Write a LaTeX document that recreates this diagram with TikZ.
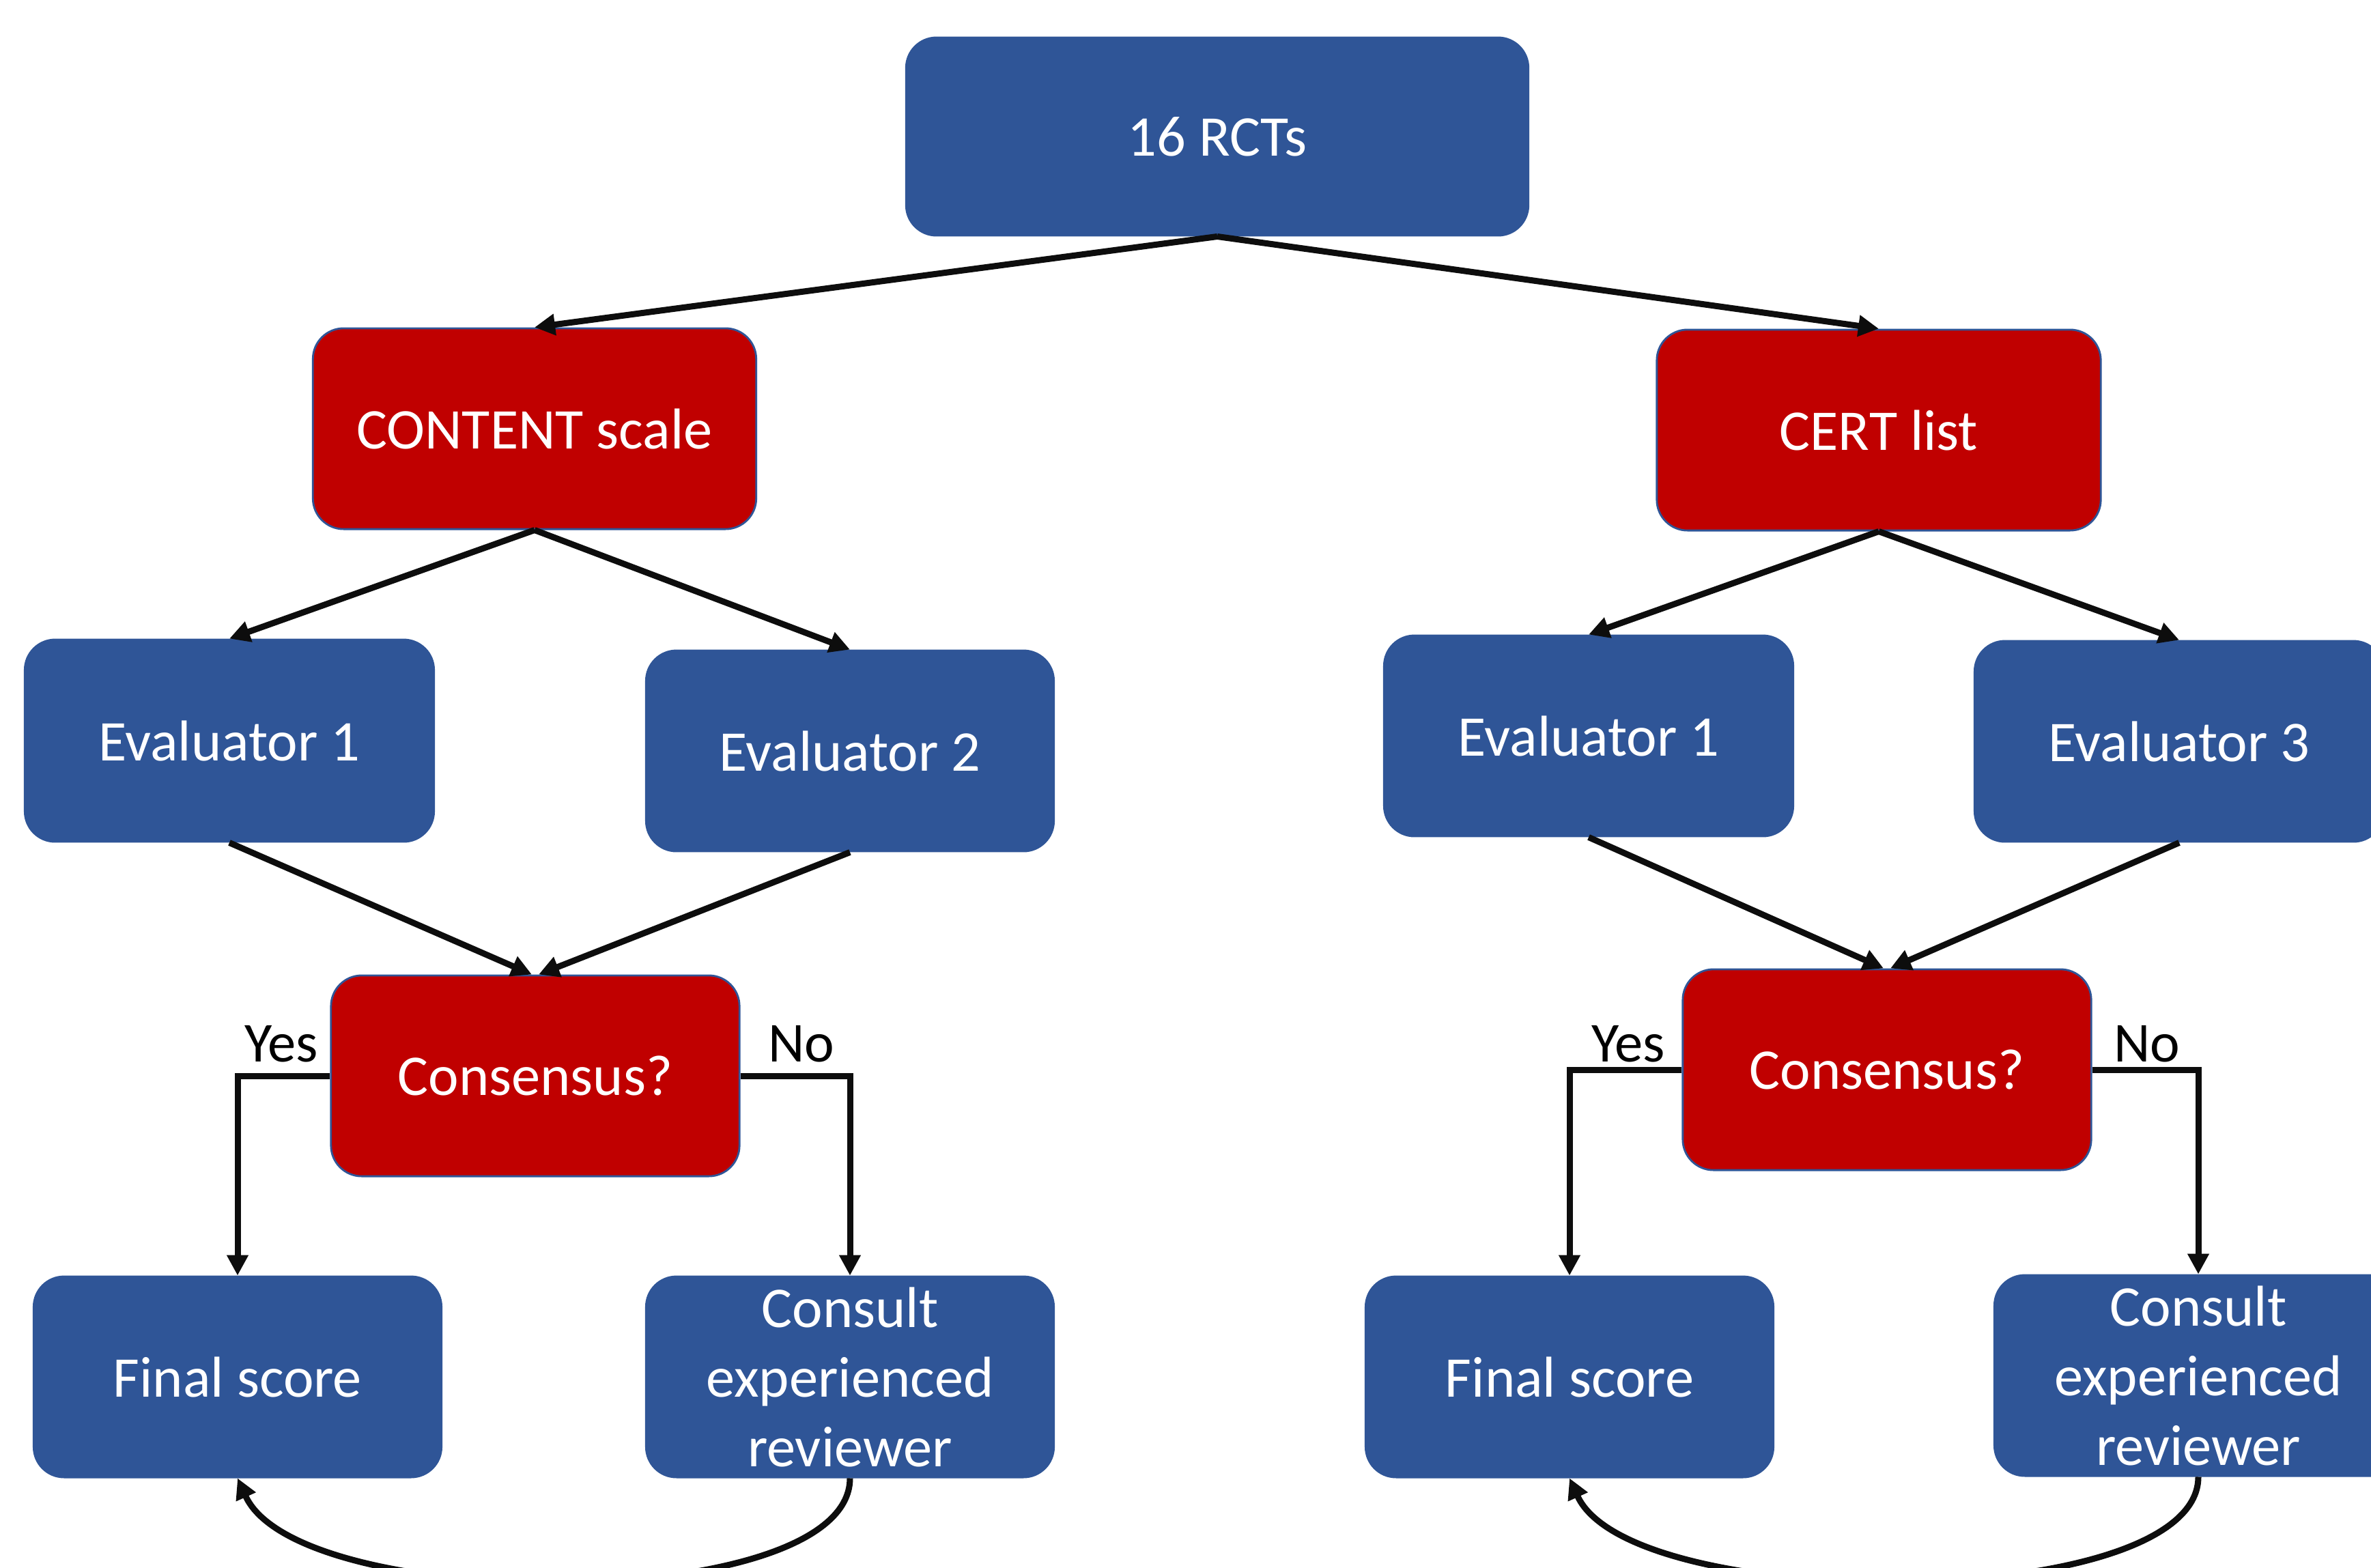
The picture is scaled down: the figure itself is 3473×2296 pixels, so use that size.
\documentclass[tikz,border=0pt]{standalone}
\usepackage{fontspec}
\setmainfont{Carlito}
\usetikzlibrary{arrows.meta}
\definecolor{boxblue}{HTML}{2F5597}
\definecolor{boxred}{HTML}{C00000}
\begin{document}
\begin{tikzpicture}[x=0.01cm,y=-0.01cm,
  base/.style={rectangle, rounded corners=0.45cm, text=white, inner sep=0pt,
    align=center, font=\fontsize{24}{29}\selectfont},
  bluebox/.style={base, fill=boxblue, draw=boxblue, line width=0.5pt},
  redbox/.style={base, fill=boxred, draw=boxblue, line width=0.8pt},
  lab/.style={text=black, inner sep=0pt, font=\fontsize{23.5}{28}\selectfont},
  arr/.style={line width=0.09cm, draw={black!95}, -{Triangle[length=0.3cm,width=0.3cm]}},
  ln/.style={line width=0.09cm, draw={black!95}}]
\clip (0,0) rectangle (3473,2296);
\fill[white] (0,0) rectangle (3473,2296);

\node[bluebox, minimum width=9.12cm, minimum height=2.91cm] (top) at (1783,200) {16 RCTs};
\node[redbox, minimum width=6.49cm, minimum height=2.94cm] (content) at (783,628) {CONTENT scale};
\node[redbox, minimum width=6.5cm, minimum height=2.94cm] (cert) at (2752,630) {CERT list};

\node[bluebox, minimum width=6.0cm, minimum height=2.97cm] (e1L) at (336,1085) {Evaluator 1};
\node[bluebox, minimum width=5.98cm, minimum height=2.95cm] (e2) at (1245,1100) {Evaluator 2};
\node[bluebox, minimum width=6.0cm, minimum height=2.95cm] (e1R) at (2327,1078) {Evaluator 1};
\node[bluebox, minimum width=6.0cm, minimum height=2.95cm] (e3) at (3192,1086) {Evaluator 3};

\node[redbox, minimum width=5.98cm, minimum height=2.94cm] (consL) at (784,1576) {Consensus?};
\node[redbox, minimum width=5.98cm, minimum height=2.94cm] (consR) at (2764,1567) {Consensus?};

\node[bluebox, minimum width=5.98cm, minimum height=2.95cm] (finL) at (348,2017) {Final score};
\node[bluebox, minimum width=5.98cm, minimum height=2.95cm] (conL) at (1245,2017) {Consult\\experienced\\reviewer};
\node[bluebox, minimum width=5.98cm, minimum height=2.95cm] (finR) at (2299,2017) {Final score};
\node[bluebox, minimum width=5.98cm, minimum height=2.95cm] (conR) at (3220,2015) {Consult\\experienced\\reviewer};

\node[lab, anchor=base] (yesL) at (412,1555) {Yes};
\node[lab, anchor=base] (noL) at (1174,1555) {No};
\node[lab, anchor=base] (yesR) at (2385,1555) {Yes};
\node[lab, anchor=base] (noR) at (3145,1555) {No};

% top level
\draw[arr] (top.south) -- (content.north);
\draw[arr] (top.south) -- (cert.north);
% second level
\draw[arr] (content.south) -- (e1L.north);
\draw[arr] (content.south) -- (e2.north);
\draw[arr] (cert.south) -- (e1R.north);
\draw[arr] (cert.south) -- (e3.north);
% to consensus
\draw[arr] (e1L.south) -- ([xshift=-0.05cm]consL.north);
\draw[arr] (e2.south) -- ([xshift=0.05cm]consL.north);
\draw[arr] (e1R.south) -- ([xshift=-0.05cm]consR.north);
\draw[arr] (e3.south) -- ([xshift=0.05cm]consR.north);
% yes / no
\draw[arr] (consL.west) -| (finL.north);
\draw[arr] (consL.east) -| (conL.north);
\draw[arr] (consR.west) -| (finR.north);
\draw[arr] (consR.east) -| (conR.north);
% return curves
\draw[arr] (conL.south) .. controls +(0,200) and +(90,200) .. (finL.south);
\draw[arr] (conR.south) .. controls +(0,200) and +(90,200) .. (finR.south);
\end{tikzpicture}
\end{document}
